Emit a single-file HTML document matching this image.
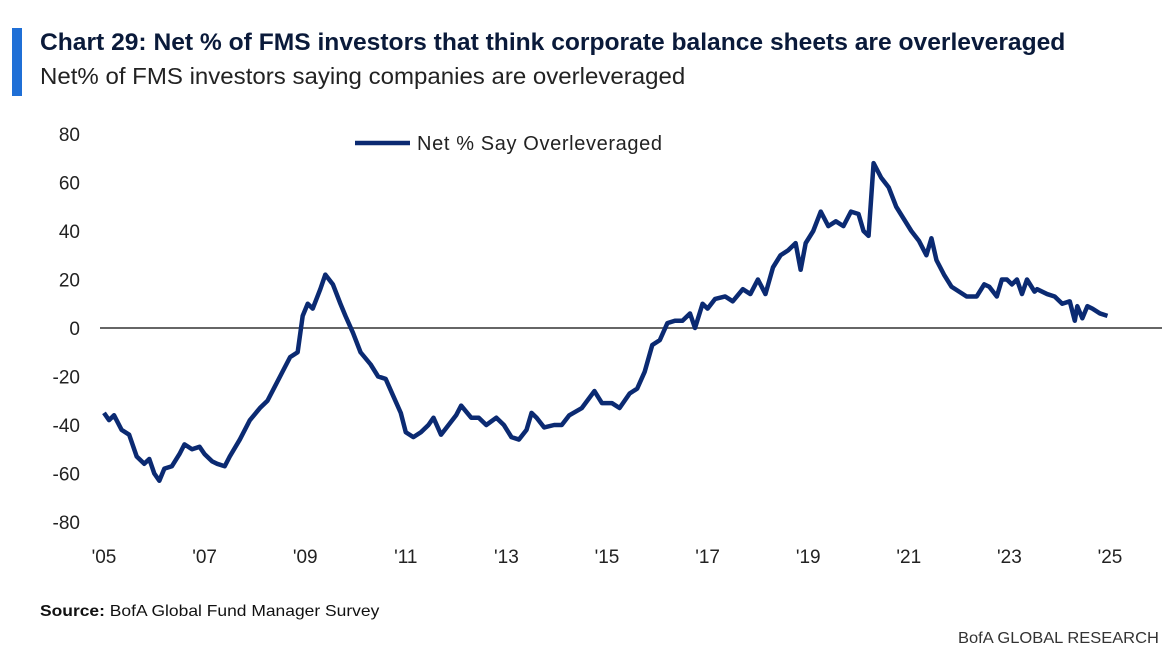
<!DOCTYPE html>
<html><head><meta charset="utf-8">
<style>
body{margin:0;width:1175px;height:655px;background:#fff;font-family:"Liberation Sans",sans-serif;overflow:hidden;position:relative}
.t{position:absolute;white-space:nowrap}
</style></head><body>
<div style="position:absolute;left:12px;top:28px;width:10px;height:68px;background:#1f6fd6"></div>
<div class="t" style="left:40px;top:29px;font-size:24px;font-weight:bold;color:#0a1a3a;transform:scaleX(1.025);transform-origin:left">Chart 29: Net % of FMS investors that think corporate balance sheets are overleveraged</div>
<div class="t" style="left:40px;top:63px;font-size:23px;color:#222;transform:scaleX(1.045);transform-origin:left">Net% of FMS investors saying companies are overleveraged</div>
<svg id="chart" width="1175" height="655" style="position:absolute;left:0;top:0"></svg>
<div class="t" style="left:40px;top:603px;font-size:16px;color:#111;transform:scaleX(1.09);transform-origin:left"><b>Source:</b> BofA Global Fund Manager Survey</div>
<div class="t" style="left:958px;top:630px;font-size:16px;color:#333;transform:scaleX(1.03);transform-origin:left">BofA GLOBAL RESEARCH</div>
<script>
const years=[2005.0,2005.1,2005.2,2005.35,2005.5,2005.65,2005.8,2005.9,2006.0,2006.1,2006.2,2006.35,2006.5,2006.6,2006.75,2006.9,2007.0,2007.15,2007.25,2007.4,2007.5,2007.7,2007.9,2008.1,2008.25,2008.4,2008.55,2008.7,2008.85,2008.95,2009.05,2009.15,2009.3,2009.4,2009.55,2009.7,2009.8,2009.95,2010.1,2010.3,2010.45,2010.6,2010.75,2010.9,2011.0,2011.15,2011.3,2011.45,2011.55,2011.7,2011.85,2012.0,2012.1,2012.3,2012.45,2012.6,2012.8,2012.95,2013.1,2013.25,2013.4,2013.5,2013.6,2013.75,2013.95,2014.1,2014.25,2014.5,2014.75,2014.9,2015.1,2015.25,2015.45,2015.6,2015.75,2015.9,2016.05,2016.2,2016.35,2016.5,2016.65,2016.75,2016.9,2017.0,2017.15,2017.35,2017.5,2017.7,2017.85,2018.0,2018.15,2018.3,2018.45,2018.6,2018.75,2018.85,2018.95,2019.1,2019.25,2019.4,2019.55,2019.7,2019.85,2020.0,2020.1,2020.2,2020.3,2020.45,2020.6,2020.75,2020.9,2021.05,2021.2,2021.35,2021.45,2021.55,2021.7,2021.85,2022.0,2022.15,2022.35,2022.5,2022.6,2022.75,2022.85,2022.95,2023.05,2023.15,2023.25,2023.35,2023.5,2023.55,2023.75,2023.9,2024.05,2024.2,2024.3,2024.35,2024.45,2024.55,2024.65,2024.8,2024.95,2025.05];
const values=[-35,-38,-36,-42,-44,-53,-56,-54,-60,-63,-58,-57,-52,-48,-50,-49,-52,-55,-56,-57,-53,-46,-38,-33,-30,-24,-18,-12,-10,5,10,8,16,22,18,10,5,-2,-10,-15,-20,-21,-28,-35,-43,-45,-43,-40,-37,-44,-40,-36,-32,-37,-37,-40,-37,-40,-45,-46,-42,-35,-37,-41,-40,-40,-36,-33,-26,-31,-31,-33,-27,-25,-18,-7,-5,2,3,3,6,0,10,8,12,13,11,16,14,20,14,25,30,32,35,24,35,40,48,42,44,42,48,47,40,38,68,62,58,50,45,40,36,30,37,28,22,17,15,13,13,18,17,13,20,20,18,20,14,20,15,16,14,13,10,11,3,9,4,9,8,6,5];
const yTicks=[80,60,40,20,0,-20,-40,-60,-80];
const xTickYears=[2005,2007,2009,2011,2013,2015,2017,2019,2021,2023,2025];
const xTickLabels=["'05","'07","'09","'11","'13","'15","'17","'19","'21","'23","'25"];
const svg=document.getElementById('chart');const NS='http://www.w3.org/2000/svg';
const X=y=>104+(y-2005)*50.3;const Y=v=>328-v*2.425;
function mk(t,a){const e=document.createElementNS(NS,t);for(const k in a)e.setAttribute(k,a[k]);svg.appendChild(e);return e;}
yTicks.forEach(v=>{const e=mk('text',{x:80,y:Y(v)+7,'text-anchor':'end','font-size':19,fill:'#222','font-family':'Liberation Sans'});e.textContent=v;

});
xTickYears.forEach((yr,i)=>{const e=mk('text',{x:X(yr),y:563,'text-anchor':'middle','font-size':19,fill:'#222','font-family':'Liberation Sans'});e.textContent=xTickLabels[i];

});
const z=mk('line',{x1:100,x2:1162,y1:Y(0),y2:Y(0),stroke:'#666','stroke-width':2});


const p=mk('polyline',{points:years.map((y,i)=>X(y)+','+Y(values[i])).join(' '),fill:'none',stroke:'#0b2a72','stroke-width':4.5,'stroke-linejoin':'round'});


const ll=mk('line',{x1:355,x2:410,y1:143,y2:143,stroke:'#0b2a72','stroke-width':4.5});


const lt=mk('text',{x:417,y:150,'font-size':20,fill:'#222','font-family':'Liberation Sans',textLength:245});lt.textContent='Net % Say Overleveraged';


</script>
</body></html>
